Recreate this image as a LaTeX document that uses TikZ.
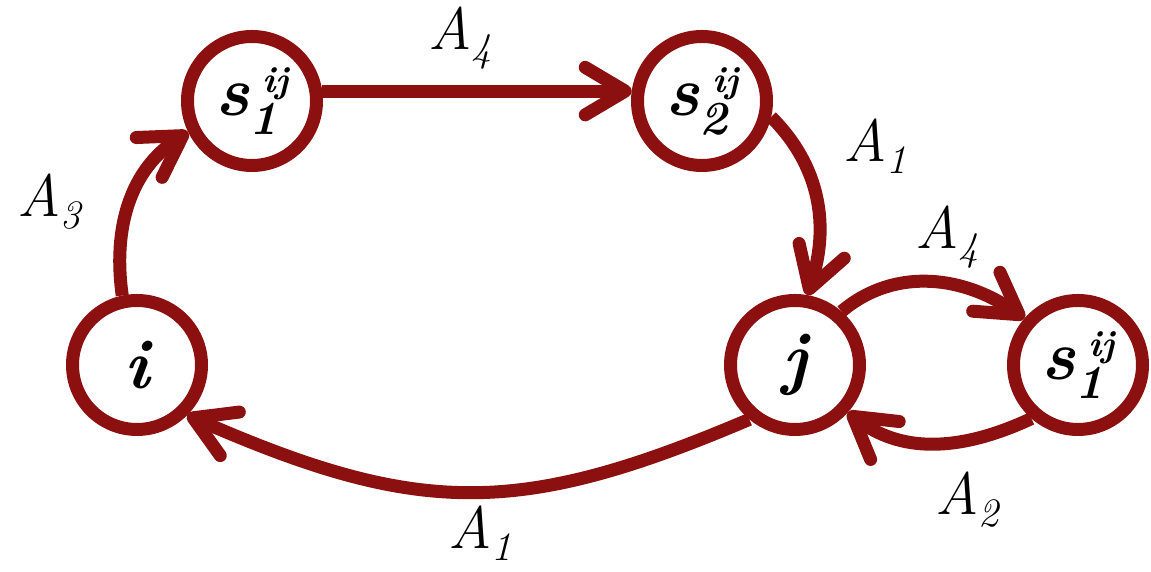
\documentclass[tikz,border=0pt]{standalone}
\usepackage{fontspec}
\usetikzlibrary{arrows.meta}
\definecolor{ringred}{RGB}{140,16,16}
\newcommand\albl[1]{\itshape A\raisebox{-0.24cm}{\fontsize{23}{23}\selectfont #1}}
\newcommand\snode[1]{\bfseries\itshape s\rlap{\raisebox{-0.38cm}{\fontsize{27}{27}\selectfont #1}}\hspace{0.26cm}\raisebox{0.46cm}{\fontsize{21}{21}\selectfont ij}}
\tikzset{
  state/.style={circle, draw=ringred, line width=0.26cm, minimum size=2.58cm, inner sep=0pt,
    font=\fontsize{40}{40}\selectfont\bfseries\itshape},
  conn/.style={draw=ringred, line width=0.26cm, -{Straight Barb[length=0.8cm,width=0.95cm,round]}},
  elabel/.style={anchor=base west, inner sep=0pt, font=\fontsize{34}{34}\selectfont}
}
\begin{document}
\begin{tikzpicture}
\useasboundingbox (0,0) rectangle (23.02,11.44);
\node[state] (i) at (2.74,4.14) {\textit{i}};
\node[state] (s1) at (5.04,9.42) {\snode{1}};
\node[state] (s2) at (14.04,9.42) {\snode{2}};
\node[state] (j) at (15.90,4.14) {\textit{j}};
\node[state] (s1r) at (21.56,4.14) {\snode{1}};

\draw[conn] (i.102) to[out=98,in=213] (s1.206);
\draw[conn] (s1.8) -- (s2.172);
\draw[conn] (s2.-13) to[out=-45,in=72] (j.80);
\draw[conn] (j.230) .. controls (10.4,1.1) and (8.4,1.1) .. (i.-45);
\draw[conn] (j.49) to[out=40,in=145] (s1r.139);
\draw[conn] (s1r.229) to[out=205,in=-37] (j.-42);

\node[elabel] (l3) at (0.34,7.10) {\albl{3}};
\node[elabel] (l4a) at (8.56,10.44) {\albl{4}};
\node[elabel] (l1a) at (16.86,8.20) {\albl{1}};
\node[elabel] (l4b) at (18.30,6.46) {\albl{4}};
\node[elabel] (l2) at (18.70,1.14) {\albl{2}};
\node[elabel] (l1b) at (8.96,0.46) {\albl{1}};
\end{tikzpicture}
\end{document}
